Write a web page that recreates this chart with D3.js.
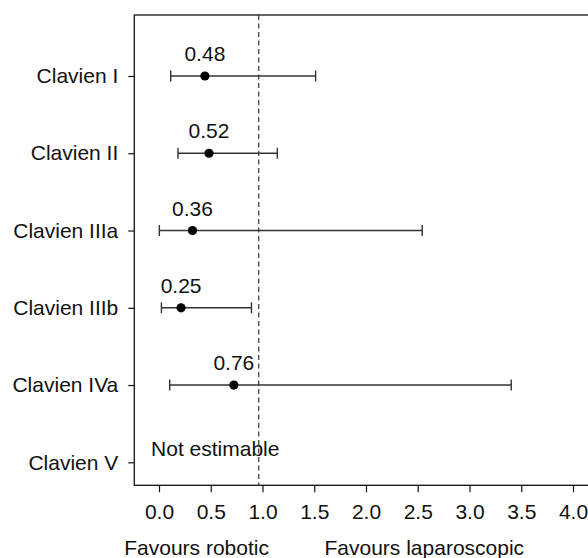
<!DOCTYPE html>
<html>
<head>
<meta charset="utf-8">
<script src="https://cdn.jsdelivr.net/npm/d3@7"></script>
<style>
  html, body { margin: 0; padding: 0; background: #fff; }
  svg { display: block; font-family: "Liberation Sans", Arial, Helvetica, sans-serif; }
</style>
</head>
<body>
<svg id="chart" width="588" height="558"></svg>
<script>
// Clavien-Dindo grades with odds ratios and 95% confidence limits
const grades    = ["Clavien I", "Clavien II", "Clavien IIIa", "Clavien IIIb", "Clavien IVa", "Clavien V"];
const oddsRatio = [0.48, 0.52, 0.36, 0.25, 0.76, null];
const ciLower   = [0.15, 0.22, 0.04, 0.06, 0.14, null];
const ciUpper   = [1.55, 1.18, 2.58, 0.93, 3.44, null];
const xTicks    = [0, 0.5, 1, 1.5, 2, 2.5, 3, 3.5, 4];
const sideLabels = [
  { text: "Favours robotic", at: 0.4 },
  { text: "Favours laparoscopic", at: 2.6 }
];
const noEstimateText = "Not estimable";
const nullValue = 1;

const rows = grades.map((g, i) => ({
  grade: g, or: oddsRatio[i], lo: ciLower[i], hi: ciUpper[i]
}));

const svg = d3.select("#chart");
const frame = { left: 134.3, top: 15, bottom: 485.3, right: 600 };
const fontSize = 21;

const x = d3.scaleLinear().domain([0, 4]).range([155.2, 569.2]);
const axisShift = 3.8;   // the printed axis sits a few pixels right of the plotted estimates
const y = d3.scalePoint().domain(grades).range([76, 462.3]);

// Plot frame (open on the right edge of the page)
svg.append("rect")
  .attr("x", frame.left).attr("y", frame.top)
  .attr("width", frame.right - frame.left).attr("height", frame.bottom - frame.top)
  .attr("fill", "none").attr("stroke", "#111").attr("stroke-width", 1.3);

// Line of no effect
svg.append("line")
  .attr("x1", x(nullValue)).attr("x2", x(nullValue))
  .attr("y1", frame.top).attr("y2", frame.bottom)
  .attr("stroke", "#444").attr("stroke-width", 1.3)
  .attr("stroke-dasharray", "5,3.5");

// Y axis with grade labels
const yAxis = svg.append("g")
  .attr("transform", `translate(${frame.left},0)`)
  .call(d3.axisLeft(y).tickSize(6).tickPadding(10));
yAxis.select(".domain").remove();
yAxis.selectAll("line").attr("stroke", "#111").attr("stroke-width", 1.2);
yAxis.selectAll("text").attr("font-size", fontSize).attr("fill", "#111")
  .attr("font-family", "Liberation Sans, Arial, sans-serif");

// X axis
const xAxis = svg.append("g")
  .attr("transform", `translate(${axisShift},${frame.bottom})`)
  .call(d3.axisBottom(x).tickValues(xTicks).tickFormat(d3.format(".1f")).tickSize(7).tickPadding(12));
xAxis.select(".domain").remove();
xAxis.selectAll("line").attr("stroke", "#111").attr("stroke-width", 1.2);
xAxis.selectAll("text").attr("font-size", fontSize).attr("fill", "#111")
  .attr("font-family", "Liberation Sans, Arial, sans-serif");

const est = rows.filter(d => d.or !== null);
const capH = 5.5;

const g = svg.append("g");
// Confidence interval lines
g.selectAll(".ci").data(est).join("line")
  .attr("x1", d => x(d.lo)).attr("x2", d => x(d.hi))
  .attr("y1", d => y(d.grade)).attr("y2", d => y(d.grade))
  .attr("stroke", "#333").attr("stroke-width", 1.4);
// End caps
g.selectAll(".capL").data(est).join("line")
  .attr("x1", d => x(d.lo)).attr("x2", d => x(d.lo))
  .attr("y1", d => y(d.grade) - capH).attr("y2", d => y(d.grade) + capH)
  .attr("stroke", "#333").attr("stroke-width", 1.4);
g.selectAll(".capR").data(est).join("line")
  .attr("x1", d => x(d.hi)).attr("x2", d => x(d.hi))
  .attr("y1", d => y(d.grade) - capH).attr("y2", d => y(d.grade) + capH)
  .attr("stroke", "#333").attr("stroke-width", 1.4);
// Point estimates
g.selectAll(".pt").data(est).join("circle")
  .attr("cx", d => x(d.or)).attr("cy", d => y(d.grade)).attr("r", 4.6)
  .attr("fill", "#000");
// Value labels
g.selectAll(".val").data(est).join("text")
  .attr("x", d => x(d.or)).attr("y", d => y(d.grade) - 15)
  .attr("text-anchor", "middle").attr("font-size", fontSize).attr("fill", "#111")
  .text(d => d.or.toFixed(2));

// Grade without an estimate
rows.filter(d => d.or === null).forEach(d => {
  svg.append("text")
    .attr("x", x(0.58)).attr("y", y(d.grade) - 6.3)
    .attr("text-anchor", "middle").attr("font-size", fontSize).attr("fill", "#111")
    .text(noEstimateText);
});

// Direction labels under the axis
svg.selectAll(".side").data(sideLabels).join("text")
  .attr("x", d => x(d.at)).attr("y", 555)
  .attr("text-anchor", "middle").attr("font-size", fontSize).attr("fill", "#111")
  .text(d => d.text);
</script>
</body>
</html>
